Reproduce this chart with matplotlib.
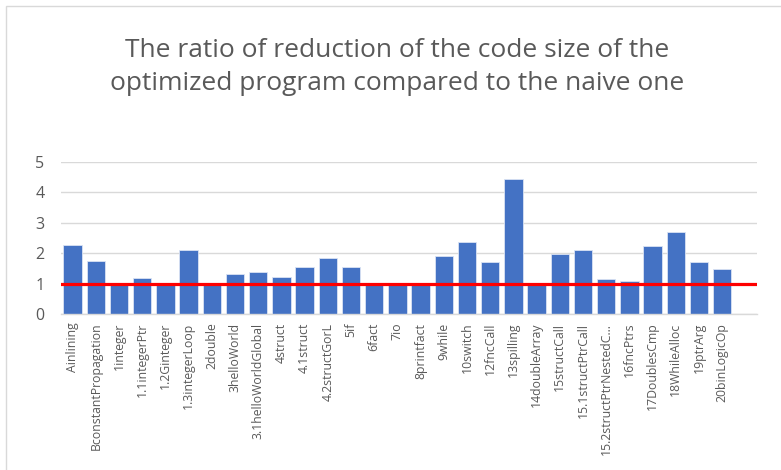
import numpy as np
import matplotlib.pyplot as plt
from matplotlib.patches import Rectangle

plt.rcParams['font.family'] = ['Open Sans', 'DejaVu Sans']

categories = ['Ainlining', 'BconstantPropagation', '1integer', '1.1integerPtr',
              '1.2Ginteger', '1.3integerLoop', '2double', '3helloWorld',
              '3.1helloWorldGlobal', '4struct', '4.1struct', '4.2structGorL',
              '5if', '6fact', '7io', '8printfact', '9while', '10switch',
              '12fncCall', '13spilling', '14doubleArray', '15structCall',
              '15.1structPtrCall', '15.2structPtrNestedC...', '16fncPtrs',
              '17DoublesCmp', '18WhileAlloc', '19ptrArg', '20binLogicOp']
ratios = [2.27, 1.75, 1.0, 1.19, 1.0, 2.10, 1.0, 1.31, 1.39, 1.21, 1.56, 1.84,
          1.56, 1.0, 1.0, 1.0, 1.92, 2.37, 1.71, 4.43, 1.0, 1.97, 2.11, 1.15,
          1.08, 2.25, 2.70, 1.71, 1.48]
baseline = 1.0
yticks = [0, 1, 2, 3, 4, 5]

title = 'The ratio of reduction of the code size of the\noptimized program compared to the naive one'

text_col = '#595959'
grid_col = '#D9D9D9'

fig = plt.figure(figsize=(7.81, 4.70), dpi=100)
ax = fig.add_axes([61/781, 155.7/470, 696/781, 152.6/470])

x = np.arange(len(categories))
ax.bar(x, ratios, width=0.79, color='#4472C4', edgecolor='#DAE3F3', linewidth=0.6, zorder=2)
ax.axhline(baseline, color='#FF0000', linewidth=2.3, zorder=3)

# excel leaves one empty slot at the right end
ax.set_xlim(-0.5, len(categories) + 0.5)
ax.set_ylim(0, 5)
ax.set_yticks(yticks)
ax.set_xticks(x)
ax.set_xticklabels(categories, rotation=90, fontsize=8.8, color=text_col)
ax.tick_params(axis='y', labelsize=11.5, colors=text_col, length=0, pad=12)
ax.tick_params(axis='x', length=0, pad=6)

ax.grid(axis='y', color=grid_col, linewidth=1, zorder=0)
for s in ['top', 'right', 'left']:
    ax.spines[s].set_visible(False)
ax.spines['bottom'].set_color(grid_col)
ax.spines['bottom'].set_linewidth(1)

fig.text(397/781, 1 - 67/470, title, ha='center', va='center', fontsize=19,
         color=text_col, linespacing=1.45)

# chart border (only top and left are visible in the crop)
fig.patches.append(Rectangle((6/781, -0.1), 1.2, 1 - 6/470 + 0.1, transform=fig.transFigure,
                             fill=False, edgecolor='#D9D9D9', linewidth=1))

plt.savefig('out.png', dpi=100)
